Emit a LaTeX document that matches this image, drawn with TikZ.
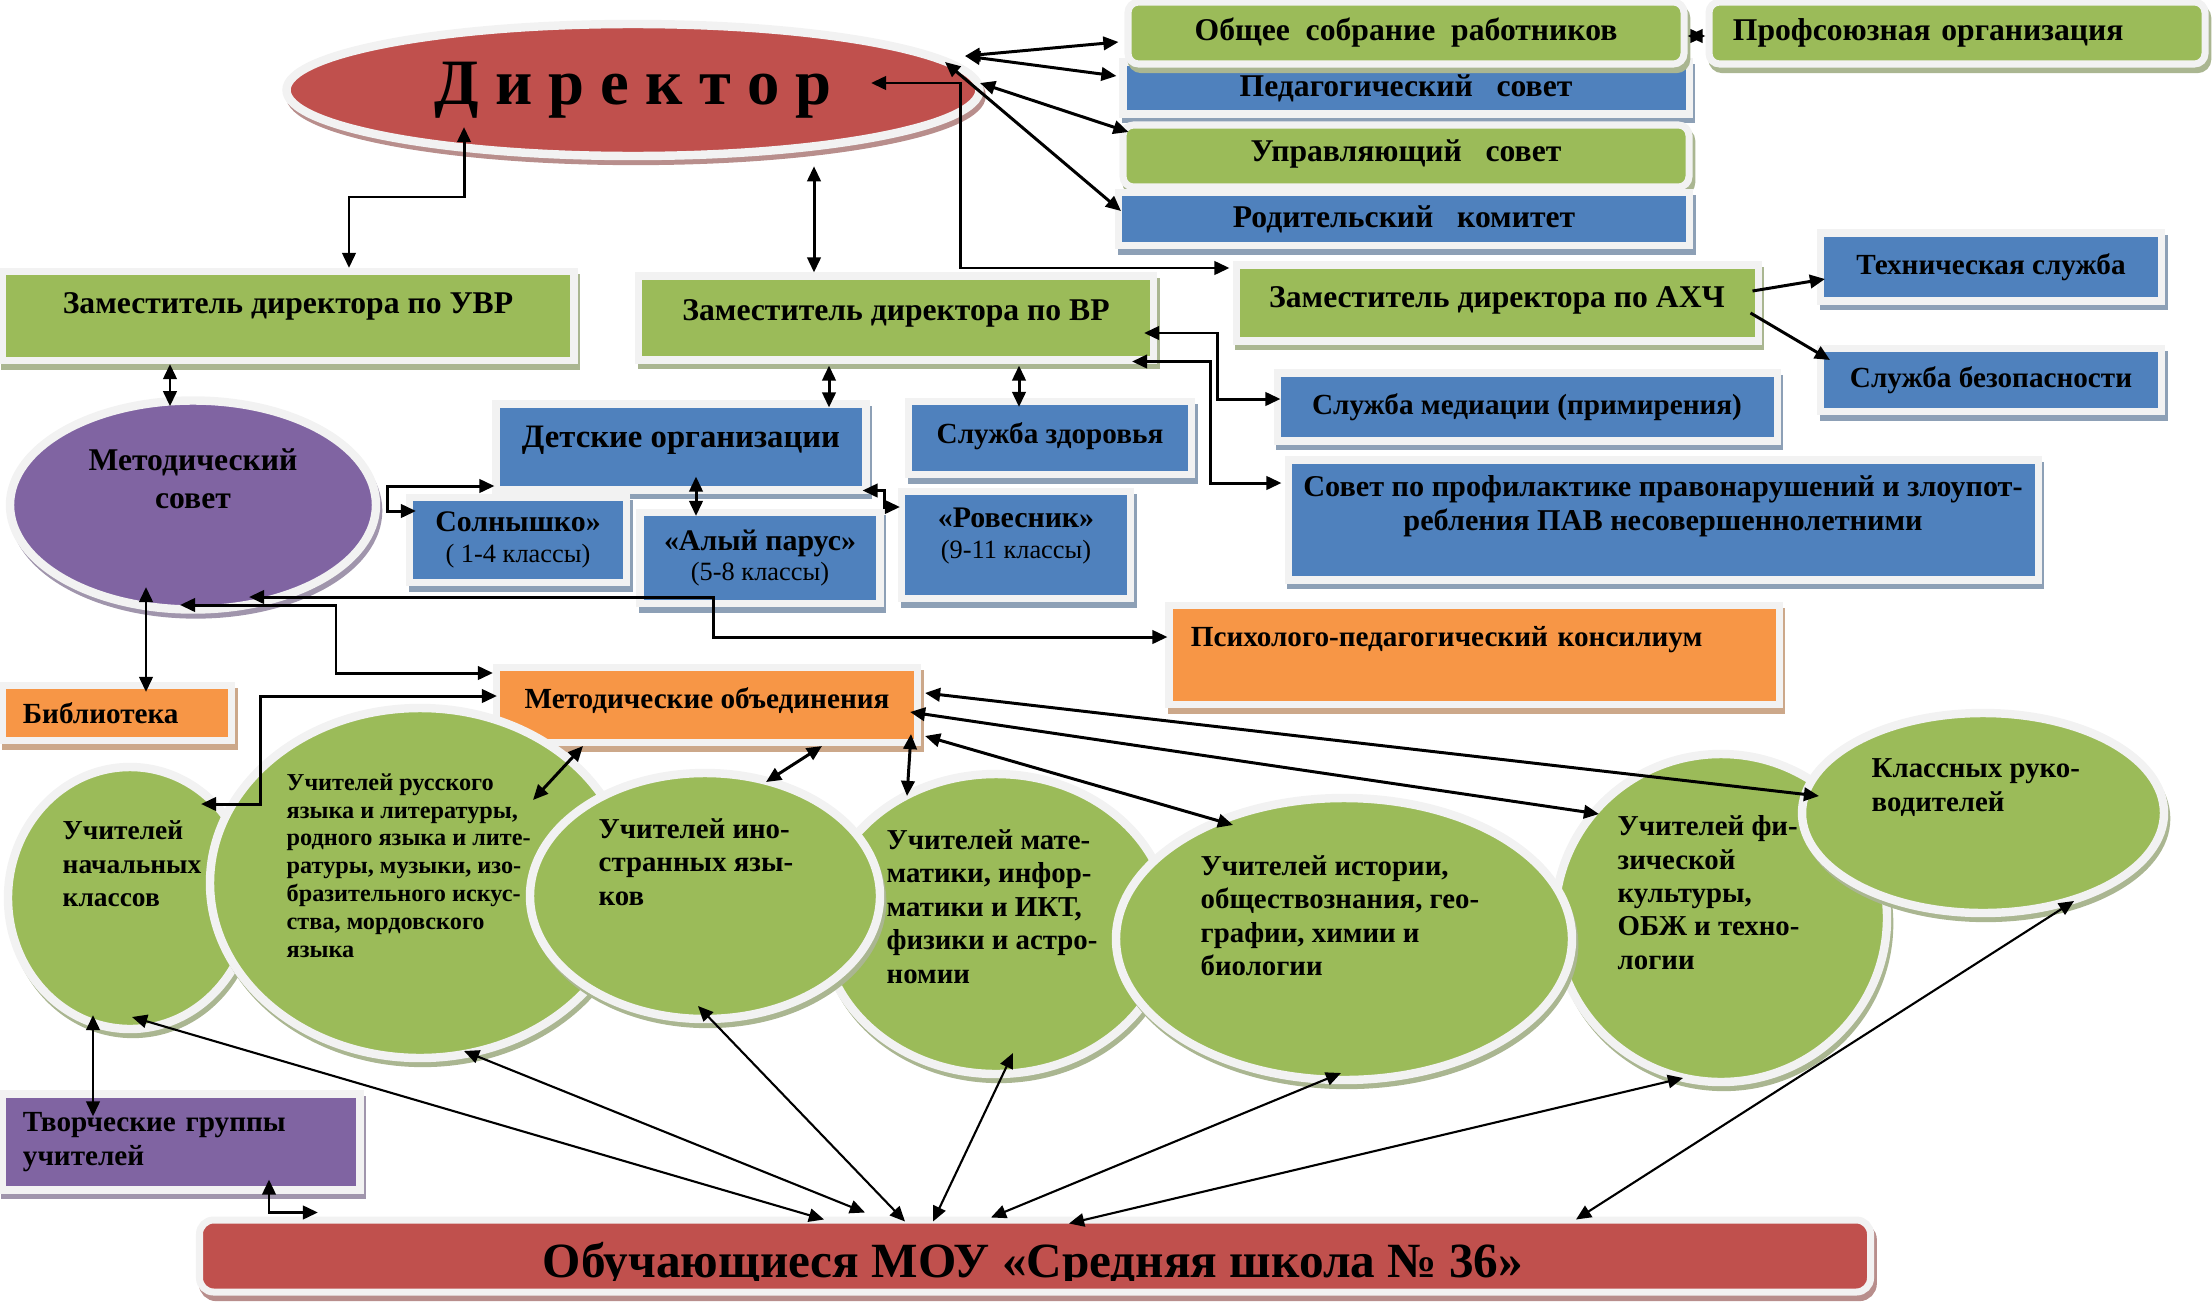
\documentclass[tikz,border=0pt]{standalone}
\usepackage{fontspec}
\setmainfont{Liberation Serif}
\usetikzlibrary{shapes.geometric,arrows.meta,calc}

\definecolor{leaf}{HTML}{9BBB59}
\definecolor{sea}{HTML}{4F81BD}
\definecolor{brick}{HTML}{C0504D}
\definecolor{plum}{HTML}{8064A2}
\definecolor{apricot}{HTML}{F79646}
\definecolor{rim}{HTML}{F2F2F2}

\newcommand\grades[1]{{\fontsize{7.5}{9}\selectfont\mdseries #1}}
\newcommand\gap[1]{\\[#1]\mbox{}}

\tikzset{
  wh/.style 2 args={minimum width=#1*0.01cm, minimum height=#2*0.01cm},
  lift/.style={text depth=#1},
  backdrop/.style={preaction={draw=#1!50!gray!75, fill=#1!50!gray!75, line width=2pt,
      transform canvas={shift={(0.8pt,-1.6pt)}}}},
  box/.style={rectangle, fill=#1, draw=rim, line width=2pt, inner sep=0pt,
      backdrop=#1, align=center, font=\fontsize{9}{10.8}\selectfont\bfseries},
  oval/.style={ellipse, fill=#1, draw=rim, line width=2.4pt, inner sep=0pt,
      backdrop=#1, align=center, font=\fontsize{9}{10.8}\selectfont\bfseries},
  md/.style={font=\fontsize{8.3}{9.6}\selectfont\bfseries},
  etext/.style={anchor=north west, align=left, inner sep=0pt,
      font=\fontsize{8.2}{9.5}\selectfont\bfseries},
  both/.style={<->, >={Triangle[length=4.3pt,width=3.8pt]}, line width=0.85pt},
  one/.style={->, >={Triangle[length=4.3pt,width=3.8pt]}, line width=0.85pt},
  fine/.style={both, line width=0.6pt}
}

\begin{document}
\begin{tikzpicture}[x=0.01cm, y=-0.01cm]
\useasboundingbox (0,0) rectangle (2212,1312);

% director and councils
\node[oval=brick, wh={693}{132}, font=\fontsize{18.4}{22}\selectfont\bfseries] (dir) at (633,90) {Д и р е к т о р};
\node[box=sea, wh={566}{52}] (ped) at (1406,88) {Педагогический\ \ \ совет};
\node[box=leaf, rounded corners=3pt, wh={556}{62}] (obsh) at (1406,33) {Общее\ \ собрание\ \ работников};
\node[box=leaf, rounded corners=3pt, wh={496}{62}, text width=4.48cm, align=left] (prof) at (1957,33) {Профсоюзная организация};
\node[box=leaf, rounded corners=3pt, wh={566}{62}, lift=0.1cm] (upr) at (1406,156) {Управляющий\ \ \ совет};
\node[box=sea, wh={571}{53}] (rod) at (1404,219) {Родительский\ \ \ комитет};

% deputies
\node[box=leaf, wh={572}{89}, lift=0.26cm] (uvr) at (288,316) {Заместитель директора по УВР};
\node[box=leaf, wh={515}{84}, lift=0.16cm] (vr) at (896,318) {Заместитель директора по ВР};
\node[box=leaf, wh={522}{76}, lift=0.12cm] (axch) at (1497,303) {Заместитель директора по АХЧ};
\node[box=sea, md, wh={341}{68}] (tech) at (1991,267) {Техническая служба};
\node[box=sea, md, wh={341}{63}] (bez) at (1991,380) {Служба безопасности};
\node[box=sea, md, wh={500}{68}] (med) at (1527,407) {Служба медиации (примирения)};
\node[box=sea, wh={750}{120}, font=\fontsize{8.6}{9.7}\selectfont\bfseries] (sovet) at (1663,520)
  {Совет по профилактике правонарушений и злоупот-\\ребления ПАВ несовершеннолетними\gap{0pt}};

% children organisations
\node[box=sea, wh={370}{86}, lift=0.2cm, font=\fontsize{9.3}{11}\selectfont\bfseries] (deti) at (681,447) {Детские организации};
\node[box=sea, md, wh={283}{73}, lift=0.1cm] (zdor) at (1050,438) {Служба здоровья};
\node[box=sea, wh={217}{85}, font=\fontsize{8.5}{8.8}\selectfont\bfseries] (soln) at (518,540) {Солнышко»\\\grades{( 1-4 классы)}};
\node[box=sea, wh={240}{91}, font=\fontsize{8.5}{8.8}\selectfont\bfseries] (parus) at (760,558) {«Алый парус»\\\grades{(5-8 классы)}};
\node[box=sea, wh={229}{107}, font=\fontsize{8.5}{8.8}\selectfont\bfseries] (rov) at (1016,545) {«Ровесник»\\\grades{(9-11 классы)}\gap{-2pt}};

% methodical work
\node[oval=plum, wh={366}{209}] (metsov) at (193,505) {Методический\\совет\gap{4pt}};
\node[box=apricot, md, wh={610}{99}, text width=5.66cm, align=left, lift=0.38cm] (psy) at (1474,655) {Психолого-педагогический консилиум};
\node[box=apricot, md, wh={229}{55}, text width=1.88cm, align=left] (bib) at (117,713) {Библиотека};
\node[box=apricot, md, wh={421}{75}, lift=0.14cm] (mo) at (707,705) {Методические объединения};
\node[box=plum, md, wh={358}{96}, text width=3.16cm, align=left] (tvor) at (181,1142) {Творческие группы\\учителей};

% pupils
\node[box=brick, rounded corners=4pt, wh={1671}{72}] (uch) at (1035,1256) {};
\begin{scope}
  \clip (uch.north west) rectangle ($(uch.east)+(0,24)$);
  \node[anchor=base, inner sep=0pt, font=\fontsize{14}{17}\selectfont\bfseries] (uch-t) at ($(uch.center)+(-2,21)$) {Обучающиеся МОУ «Средняя школа № 36»};
\end{scope}

% teachers
\node[oval=leaf, wh={244}{262}] (nach) at (130,898) {};
\node[etext, font=\fontsize{7.8}{9.5}\selectfont\bfseries] (nach-t) at ($(nach.center)+(-68,-78)$) {Учителей\\начальных\\классов};
\node[oval=leaf, wh={420}{350}] (rus) at (420,883) {};
\node[etext, font=\fontsize{6.9}{7.9}\selectfont\bfseries] (rus-t) at ($(rus.center)+(-134,-110)$)
  {Учителей русского\\языка и литературы,\\родного языка и лите-\\ратуры, музыки, изо-\\бразительного искус-\\ства, мордовского\\языка};
\node[oval=leaf, wh={348}{300}] (mat) at (996,924) {};
\node[etext] (mat-t) at ($(mat.center)+(-110,-95)$) {Учителей мате-\\матики, инфор-\\матики и ИКТ,\\физики и астро-\\номии};
\node[oval=leaf, wh={350}{246}] (inostr) at (705,896) {};
\node[etext] (inostr-t) at ($(inostr.center)+(-107,-78)$) {Учителей ино-\\странных язы-\\ков};
\node[oval=leaf, wh={332}{328}] (fiz) at (1721,918) {};
\node[etext] (fiz-t) at ($(fiz.center)+(-104,-103)$) {Учителей фи-\\зической\\культуры,\\ОБЖ и техно-\\логии};
\node[oval=leaf, wh={456}{282}] (ist) at (1344,939) {};
\node[etext] (ist-t) at ($(ist.center)+(-144,-84)$) {Учителей истории,\\обществознания, гео-\\графии, химии и\\биологии};
\node[oval=leaf, wh={362}{200}] (klass) at (1983,813) {};
\node[etext] (klass-t) at ($(klass.center)+(-112,-55)$) {Классных руко-\\водителей};

% connectors
\draw[both] ($(dir.center)+(-169,37)$) -- ++(0,70) -| ($(uvr.north)+(61,0)$);
\draw[both] ($(dir.south)+(181,6)$) -- ($(vr.north)+(-82,0)$);
\draw[both] ($(dir.center)+(332,-34)$) -- ($(obsh.west)+(-6,9)$);
\draw[both] ($(dir.center)+(332,-34)$) -- ($(ped.west)+(-3,-12)$);
\draw[both] ($(dir.center)+(347,-7)$) -- ($(upr.west)+(9,-24)$);
\draw[both] ($(dir.center)+(312,-28)$) -- ($(rod.west)+(6,-8)$);
\draw[both] ($(dir.center)+(238,-7)$) -- ++(89,0) |- ($(axch.west)+(-3,-35)$);
\draw[both] ($(obsh.east)+(0,3)$) -- ($(prof.west)+(0,3)$);
\draw[one] ($(axch.east)+(-9,-12)$) -- ($(tech.west)+(8,12)$);
\draw[one] ($(axch.east)+(-11,10)$) -- ($(bez.west)+(13,-20)$);
\draw[both] ($(vr.east)+(-13,15)$) -- ++(73,0) |- ($(med.west)+(7,-8)$);
\draw[both] ($(vr.south east)+(-25,-2)$) -- ++(78,0) |- ($(sovet.west)+(-3,-37)$);
\draw[both] ($(vr.south)+(-67,2)$) -- ($(deti.north)+(148,7)$);
\draw[both] ($(vr.south)+(123,2)$) -- ($(zdor.north)+(-31,9)$);
\draw[both] ($(deti.south east)+(-7,-3)$) -- ++(22,0) |- ($(rov.west)+(2,-38)$);
\draw[both] ($(deti.south)+(15,-17)$) -- ($(parus.north)+(-64,7)$);
\draw[both] ($(deti.west)+(2,39)$) -- ++(-107,0) |- ($(soln.west)+(10,-29)$);
\draw[both] ($(uvr.south)+(-118,0)$) -- ($(metsov.north)+(-23,10)$);
\draw[both] ($(metsov.center)+(56,92)$) -- ++(464,0) |- ($(psy.west)+(2,-18)$);
\draw[both] ($(metsov.center)+(-13,100)$) -- ++(156,0) |- ($(mo.west)+(0,-32)$);
\draw[both] ($(metsov.center)+(-47,82)$) -- ($(bib.north)+(29,10)$);
\draw[both] ($(mo.west)+(4,-9)$) -- ++(-236,0) |- ($(nach.center)+(71,-94)$);
\draw[both] ($(mo.south)+(-124,0)$) -- ($(rus.center)+(113,-83)$);
\draw[both] ($(mo.south)+(115,0)$) -- ($(inostr.center)+(61,-114)$);
\draw[both] ($(mo.south east)+(-10,-12)$) -- ($(mat.center)+(-89,-128)$);
\draw[both] ($(mo.east)+(4,31)$) -- ($(ist.center)+(-111,-114)$);
\draw[both] ($(mo.east)+(-11,7)$) -- ($(fiz.center)+(-122,-104)$);
\draw[both] ($(mo.east)+(4,-12)$) -- ($(klass.center)+(-164,-17)$);
\draw[both] ($(nach.center)+(-37,117)$) -- ($(tvor.north)+(-88,26)$);
\draw[both] ($(tvor.south)+(88,-14)$) |- ($(uch.north west)+(122,-4)$);
\draw[fine] ($(nach.center)+(2,119)$) -- ($(uch.north west)+(628,3)$);
\draw[fine] ($(rus.center)+(44,168)$) -- ($(uch.north)+(-170,-4)$);
\draw[fine] ($(inostr.center)+(-7,110)$) -- ($(uch.north)+(-130,5)$);
\draw[fine] ($(mat.center)+(17,129)$) -- ($(uch.north)+(-102,5)$);
\draw[fine] ($(ist.center)+(-3,134)$) -- ($(uch.north)+(-44,1)$);
\draw[fine] ($(fiz.center)+(-38,160)$) -- ($(uch.north)+(34,7)$);
\draw[fine] ($(klass.center)+(91,88)$) -- ($(uch.north)+(541,3)$);
\end{tikzpicture}
\end{document}
